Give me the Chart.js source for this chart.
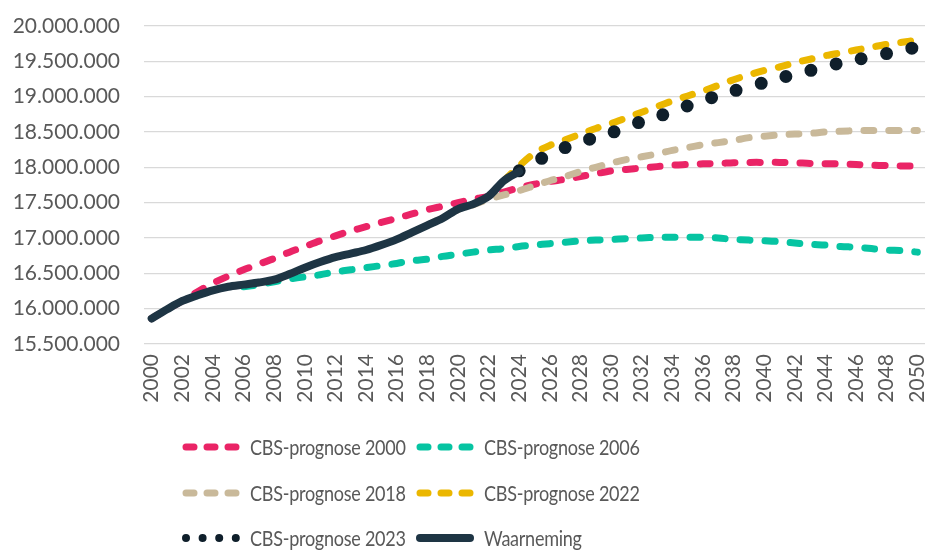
<!DOCTYPE html>
<html>
<head>
<meta charset="utf-8">
<script src="https://cdn.jsdelivr.net/npm/chart.js@4.4.1/dist/chart.umd.min.js"></script>
<style>
    html, body { margin: 0; padding: 0; background: #fff; }
    #wrap { position: relative; width: 926px; height: 550px; }
    #legend { position: absolute; left: 0; top: 0; width: 926px; height: 550px; font-family: Lato, sans-serif; font-size: 20.5px; color: #595959; }
    .item { position: absolute; height: 26px; display: flex; align-items: center; white-space: nowrap; }
    .item svg { margin-right: 10px; }
    .item span { display: inline-block; letter-spacing: -0.3px; transform: scaleX(0.88); transform-origin: left center; }
</style>
</head>
<body>
<div id="wrap">
    <canvas id="myChart" width="926" height="550"></canvas>
    <div id="legend"></div>
</div>
<script>
// categories: every year 2000 - 2050
const years = [];
for (let y = 2000; y <= 2050; y++) years.push(y);

// population in millions
const waarnemingStart = 2000;
const waarneming = [15.86, 15.99, 16.11, 16.19, 16.26, 16.31, 16.34, 16.37, 16.41, 16.49,
    16.58, 16.66, 16.73, 16.78, 16.83, 16.90, 16.98, 17.08, 17.18, 17.28,
    17.41, 17.48, 17.59, 17.81, 17.94];

const prognose2000Start = 2000;
const prognose2000 = [15.86, 15.99, 16.11, 16.24, 16.36, 16.46, 16.55, 16.63, 16.71, 16.80,
    16.88, 16.96, 17.03, 17.10, 17.16, 17.22, 17.28, 17.34, 17.40, 17.45,
    17.50, 17.55, 17.59, 17.65, 17.71, 17.76, 17.80, 17.83, 17.87, 17.91,
    17.95, 17.97, 17.99, 18.01, 18.03, 18.04, 18.05, 18.055, 18.065, 18.07,
    18.07, 18.07, 18.065, 18.055, 18.05, 18.05, 18.04, 18.03, 18.025, 18.02, 18.02];

const prognose2006Start = 2006;
const prognose2006 = [16.31, 16.34, 16.38, 16.42,
    16.45, 16.48, 16.52, 16.55, 16.58, 16.61, 16.64, 16.68, 16.70, 16.74,
    16.77, 16.80, 16.83, 16.85, 16.88, 16.90, 16.92, 16.94, 16.96, 16.97,
    16.98, 16.99, 17.00, 17.01, 17.01, 17.01, 17.01, 17.00, 16.98, 16.97,
    16.96, 16.95, 16.93, 16.91, 16.90, 16.88, 16.87, 16.85, 16.83, 16.82, 16.80];

const prognose2018Start = 2018;
const prognose2018 = [17.18, 17.29,
    17.40, 17.47, 17.55, 17.61, 17.67, 17.74, 17.81, 17.87, 17.94, 18.00,
    18.06, 18.11, 18.15, 18.19, 18.24, 18.28, 18.32, 18.35, 18.38, 18.42,
    18.44, 18.46, 18.47, 18.48, 18.50, 18.51, 18.52, 18.52, 18.52, 18.52, 18.52];

const prognose2022Start = 2023;
const prognose2022 = [17.81,
    18.02, 18.20, 18.31, 18.39, 18.47, 18.55,
    18.62, 18.70, 18.78, 18.86, 18.94, 19.01, 19.08, 19.16, 19.24, 19.31,
    19.37, 19.42, 19.48, 19.53, 19.58, 19.62, 19.66, 19.70, 19.74, 19.77, 19.80];

const prognose2023Start = 2024;
const prognose2023 = [17.95, 18.07, 18.19, 18.28, 18.35, 18.43,
    18.49, 18.56, 18.65, 18.71, 18.80, 18.87, 18.94, 19.02, 19.08, 19.14,
    19.20, 19.26, 19.32, 19.37, 19.42, 19.48, 19.52, 19.57, 19.61, 19.66, 19.70];

const yTicks = { min: 15.5, max: 20, step: 0.5 };

const pad = (start, vals) => years.map(y => (y >= start && y - start < vals.length) ? vals[y - start] : null);

const fmt = (v) => Math.round(v * 1000000).toString().replace(/\B(?=(\d{3})+(?!\d))/g, '.');

const series = [
    { label: 'CBS-prognose 2000', data: pad(prognose2000Start, prognose2000), color: '#EA2466', kind: 'dash', order: 5 },
    { label: 'CBS-prognose 2006', data: pad(prognose2006Start, prognose2006), color: '#06C4A2', kind: 'dash', order: 4 },
    { label: 'CBS-prognose 2018', data: pad(prognose2018Start, prognose2018), color: '#C9B99A', kind: 'dash', order: 3 },
    { label: 'CBS-prognose 2022', data: pad(prognose2022Start, prognose2022), color: '#EBB700', kind: 'dash', order: 2 },
    { label: 'CBS-prognose 2023', data: pad(prognose2023Start, prognose2023), color: '#0F1F2B', kind: 'dot', order: 1 },
    { label: 'Waarneming', data: pad(waarnemingStart, waarneming), color: '#1E3544', kind: 'solid', order: 0 }
];

const datasets = series.map(s => {
    const ds = {
        label: s.label,
        data: s.data,
        borderColor: s.color,
        backgroundColor: s.color,
        pointRadius: 0,
        tension: 0.3,
        order: s.order,
        borderCapStyle: 'round',
        borderJoinStyle: 'round',
        spanGaps: false
    };
    if (s.kind === 'dash') {
        ds.borderWidth = 7;
        ds.borderDash = [10, 15];
    } else if (s.kind === 'dot') {
        ds.borderWidth = 13;
        ds.borderDash = [0, 25.8];
    } else {
        ds.borderWidth = 8;
    }
    return ds;
});

new Chart(document.getElementById('myChart').getContext('2d'), {
    type: 'line',
    data: { labels: years, datasets: datasets },
    options: {
        responsive: false,
        animation: false,
        devicePixelRatio: 1,
        layout: { padding: { top: 26, right: 1, left: 0, bottom: 0 } },
        plugins: { legend: { display: false }, tooltip: { enabled: false } },
        scales: {
            x: {
                type: 'category',
                offset: true,
                grid: { display: false, drawTicks: false },
                border: { display: false },
                ticks: {
                    autoSkip: false,
                    minRotation: 90,
                    maxRotation: 90,
                    padding: 10,
                    color: '#595959',
                    font: { family: 'Lato', size: 21 },
                    callback: (val, idx) => idx % 2 === 0 ? String(years[idx]) : ''
                },
                afterFit: (scale) => {
                    scale.height = 206;
                    scale.paddingLeft = 0;
                    scale.paddingRight = 0;
                }
            },
            y: {
                min: yTicks.min,
                max: yTicks.max,
                grid: { color: '#D9D9D9', lineWidth: 1.2, drawTicks: false },
                border: { display: false },
                ticks: {
                    stepSize: yTicks.step,
                    padding: 24,
                    color: '#595959',
                    font: { family: 'Lato', size: 21 },
                    callback: (v) => fmt(v)
                },
                afterFit: (scale) => {
                    scale.width = 144;
                    scale.paddingTop = 0;
                    scale.paddingBottom = 0;
                }
            }
        }
    }
});

// legend, two columns like the original
const legendPos = [
    { x: 182, y: 447 }, { x: 416, y: 447 },
    { x: 182, y: 493 }, { x: 416, y: 493 },
    { x: 182, y: 538 }, { x: 416, y: 538 }
];
const legend = document.getElementById('legend');
series.forEach((s, i) => {
    const p = legendPos[i];
    let line;
    if (s.kind === 'dash') {
        line = '<line x1="4" y1="6" x2="54" y2="6" stroke="' + s.color + '" stroke-width="7" stroke-linecap="round" stroke-dasharray="8 13"/>';
    } else if (s.kind === 'dot') {
        line = '<line x1="4" y1="6" x2="54" y2="6" stroke="' + s.color + '" stroke-width="8" stroke-linecap="round" stroke-dasharray="0 16.6"/>';
    } else {
        line = '<line x1="4" y1="6" x2="54" y2="6" stroke="' + s.color + '" stroke-width="8" stroke-linecap="round"/>';
    }
    const div = document.createElement('div');
    div.className = 'item';
    div.style.left = p.x + 'px';
    div.style.top = (p.y - 13) + 'px';
    div.innerHTML = '<svg width="58" height="12">' + line + '</svg><span>' + s.label + '</span>';
    legend.appendChild(div);
});
</script>
</body>
</html>
